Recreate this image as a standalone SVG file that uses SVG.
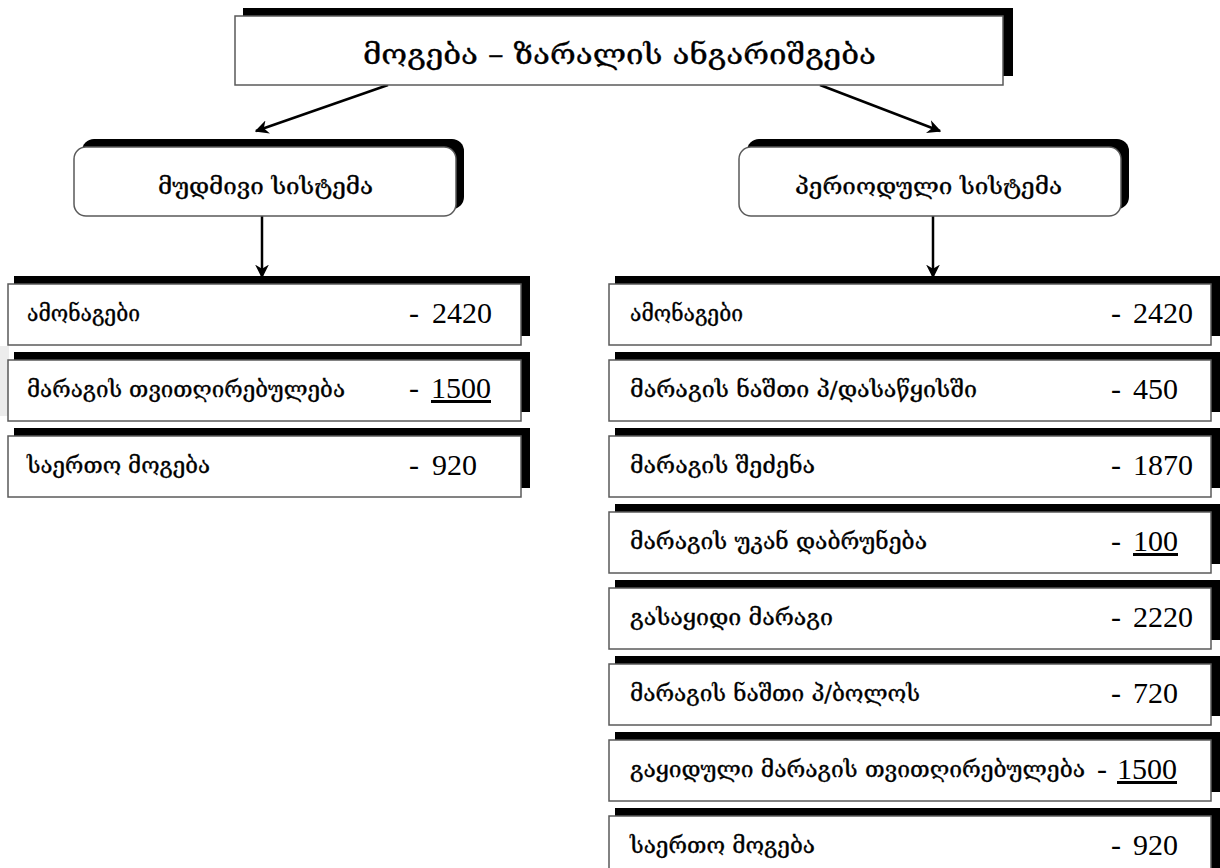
<svg xmlns="http://www.w3.org/2000/svg" width="1220" height="868" viewBox="0 0 1220 868">
<defs>
<style>
.sh{fill:#000}
.bx{fill:#fff;stroke:#5a5a5a;stroke-width:1.5}
.ge{font-family:"DejaVu Serif","DejaVu Sans",serif;fill:#000;stroke:#000;stroke-width:0.35}
.lb{font-size:23px}
.nm{font-family:"Liberation Serif","Times New Roman",serif;font-size:30px;fill:#000}
.cn{stroke:#000;stroke-width:2.5;fill:none}
</style>
<marker id="ah" viewBox="0 0 10 10" refX="9" refY="5" markerWidth="5.5" markerHeight="5.5" orient="auto" markerUnits="strokeWidth">
<path d="M0,0 L10,5 L0,10 L3,5 z" fill="#000"/>
</marker>
</defs>
<rect width="1220" height="868" fill="#fff"/>
<rect x="0" y="346" width="9" height="70" fill="#ececec"/>

<g id="connectors">
<line class="cn" x1="388" y1="85" x2="256" y2="131" marker-end="url(#ah)"/>
<line class="cn" x1="820" y1="85" x2="940" y2="131" marker-end="url(#ah)"/>
<line class="cn" x1="262" y1="216" x2="262" y2="277" marker-end="url(#ah)"/>
<line class="cn" x1="933" y1="216" x2="933" y2="277" marker-end="url(#ah)"/>
</g>

<g id="title">
<rect class="sh" x="243" y="8" width="770" height="68"/>
<rect class="bx" x="235" y="16" width="768" height="69"/>
<text class="ge" x="363" y="64" font-size="28" textLength="513" lengthAdjust="spacingAndGlyphs">მოგება – ზარალის ანგარიშგება</text>
</g>

<g id="permanent">
<rect class="sh" x="82" y="139" width="382" height="70" rx="12"/>
<rect class="bx" x="74" y="147" width="382" height="69" rx="12"/>
<text class="ge" x="158" y="194" font-size="23" textLength="215" lengthAdjust="spacingAndGlyphs">მუდმივი სისტემა</text>
</g>

<g id="periodic">
<rect class="sh" x="747" y="139" width="382" height="70" rx="12"/>
<rect class="bx" x="739" y="147" width="382" height="69" rx="12"/>
<text class="ge" x="795" y="194" font-size="23" textLength="267" lengthAdjust="spacingAndGlyphs">პერიოდული სისტემა</text>
</g>

<g id="l1">
<rect class="sh" x="14" y="276" width="516" height="60"/>
<rect class="bx" x="8" y="284" width="513" height="61"/>
<text class="ge lb" x="27" y="321" textLength="113" lengthAdjust="spacingAndGlyphs">ამონაგები</text>
<text class="nm" x="409" y="323">-</text><text class="nm" x="432" y="323">2420</text>
</g>
<g id="l2">
<rect class="sh" x="14" y="352" width="516" height="60"/>
<rect class="bx" x="8" y="360" width="513" height="61"/>
<text class="ge lb" x="27" y="397" textLength="318" lengthAdjust="spacingAndGlyphs">მარაგის თვითღირებულება</text>
<text class="nm" x="409" y="398">-</text><text class="nm" x="431" y="398" text-decoration="underline">1500</text>
</g>
<g id="l3">
<rect class="sh" x="14" y="428" width="516" height="60"/>
<rect class="bx" x="8" y="436" width="513" height="61"/>
<text class="ge lb" x="27" y="473" textLength="183" lengthAdjust="spacingAndGlyphs">საერთო მოგება</text>
<text class="nm" x="409" y="475">-</text><text class="nm" x="432" y="475">920</text>
</g>

<g id="r1">
<rect class="sh" x="615" y="276" width="610" height="60"/>
<rect class="bx" x="609" y="284" width="602" height="61"/>
<text class="ge lb" x="630" y="321" textLength="113" lengthAdjust="spacingAndGlyphs">ამონაგები</text>
<text class="nm" x="1111" y="323">-</text><text class="nm" x="1133" y="323">2420</text>
</g>
<g id="r2">
<rect class="sh" x="615" y="352" width="610" height="60"/>
<rect class="bx" x="609" y="360" width="602" height="61"/>
<text class="ge lb" x="630" y="397" textLength="347" lengthAdjust="spacingAndGlyphs">მარაგის ნაშთი პ/დასაწყისში</text>
<text class="nm" x="1111" y="399">-</text><text class="nm" x="1133" y="399">450</text>
</g>
<g id="r3">
<rect class="sh" x="615" y="428" width="610" height="60"/>
<rect class="bx" x="609" y="436" width="602" height="61"/>
<text class="ge lb" x="630" y="473" textLength="185" lengthAdjust="spacingAndGlyphs">მარაგის შეძენა</text>
<text class="nm" x="1111" y="475">-</text><text class="nm" x="1133" y="475">1870</text>
</g>
<g id="r4">
<rect class="sh" x="615" y="504" width="610" height="60"/>
<rect class="bx" x="609" y="512" width="602" height="61"/>
<text class="ge lb" x="630" y="549" textLength="297" lengthAdjust="spacingAndGlyphs">მარაგის უკან დაბრუნება</text>
<text class="nm" x="1111" y="551">-</text><text class="nm" x="1133" y="551" text-decoration="underline">100</text>
</g>
<g id="r5">
<rect class="sh" x="615" y="580" width="610" height="60"/>
<rect class="bx" x="609" y="588" width="602" height="61"/>
<text class="ge lb" x="630" y="625" textLength="203" lengthAdjust="spacingAndGlyphs">გასაყიდი მარაგი</text>
<text class="nm" x="1111" y="627">-</text><text class="nm" x="1133" y="627">2220</text>
</g>
<g id="r6">
<rect class="sh" x="615" y="656" width="610" height="60"/>
<rect class="bx" x="609" y="664" width="602" height="61"/>
<text class="ge lb" x="630" y="701" textLength="290" lengthAdjust="spacingAndGlyphs">მარაგის ნაშთი პ/ბოლოს</text>
<text class="nm" x="1111" y="703">-</text><text class="nm" x="1133" y="703">720</text>
</g>
<g id="r7">
<rect class="sh" x="615" y="732" width="610" height="60"/>
<rect class="bx" x="609" y="740" width="602" height="61"/>
<text class="ge lb" x="630" y="777" textLength="455" lengthAdjust="spacingAndGlyphs">გაყიდული მარაგის თვითღირებულება</text>
<text class="nm" x="1097" y="779">-</text><text class="nm" x="1117" y="779" text-decoration="underline">1500</text>
</g>
<g id="r8">
<rect class="sh" x="615" y="808" width="610" height="60"/>
<rect class="bx" x="609" y="816" width="602" height="61"/>
<text class="ge lb" x="630" y="853" textLength="185" lengthAdjust="spacingAndGlyphs">საერთო მოგება</text>
<text class="nm" x="1111" y="855">-</text><text class="nm" x="1133" y="855">920</text>
</g>
</svg>
